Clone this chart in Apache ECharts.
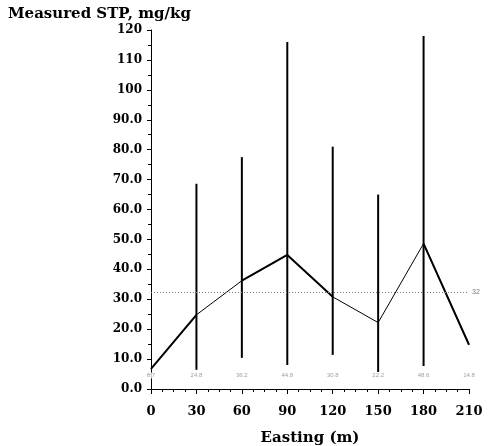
<!DOCTYPE html>
<html>
<head>
<meta charset="utf-8">
<script src="https://cdn.jsdelivr.net/npm/echarts@6/dist/echarts.min.js"></script>
<style>
  html, body { margin: 0; padding: 0; background: #fff; }
  #chart { width: 489px; height: 446px; }
</style>
</head>
<body>
<div id="chart"></div>
<script>
// easting positions (m)
var eastings = [0, 30, 60, 90, 120, 150, 180, 210];
// mean STP at each easting
var means = [6.7, 24.8, 36.2, 44.8, 30.8, 22.2, 48.6, 14.8];
// range of measured values (low / high)
var lows = [null, 6.4, 10.4, 8.0, 11.4, 5.7, 7.7, null];
var highs = [null, 68.6, 77.5, 116, 81, 65, 118, null];
var refValue = 32.5;
var refLabel = "32";

var serif = "DejaVu Serif";

var lineData = eastings.map(function (x, i) { return [x, means[i]]; });
var rangeData = [];
eastings.forEach(function (x, i) {
  if (lows[i] != null) rangeData.push([x, lows[i], highs[i]]);
});
// segments drawn heavier
var thickA = lineData.map(function (p, i) { return (i <= 1 || i >= 6) ? p : [p[0], null]; });
var thickB = lineData.map(function (p, i) { return (i >= 2 && i <= 4) ? p : [p[0], null]; });

var chart = echarts.init(document.getElementById("chart"));
chart.setOption({
  animation: false,
  title: {
    text: "Measured STP, mg/kg",
    left: 3,
    top: 2,
    textStyle: { fontFamily: serif, fontSize: 15, fontWeight: "bold", color: "#000" }
  },
  grid: { left: 151, right: 20, top: 30, bottom: 57, outerBoundsMode: "none" },
  xAxis: {
    type: "value",
    min: 0,
    max: 210,
    interval: 30,
    offset: 5,
    name: "Easting (m)",
    nameLocation: "middle",
    nameGap: 37,
    nameTextStyle: { fontFamily: serif, fontSize: 15, fontWeight: "bold", color: "#000" },
    axisLine: { show: true, lineStyle: { color: "#000", width: 1 } },
    axisTick: { show: true, inside: false, length: 5, lineStyle: { color: "#000" } },
    minorTick: { show: true, splitNumber: 4, length: 3, lineStyle: { color: "#000" } },
    axisLabel: { fontFamily: serif, fontSize: 13, fontWeight: "bold", color: "#000", margin: 11 },
    splitLine: { show: false }
  },
  yAxis: {
    type: "value",
    min: 0,
    max: 120,
    interval: 10,
    offset: 3,
    axisLine: { show: true, lineStyle: { color: "#000", width: 1 } },
    axisTick: { show: true, inside: false, length: 4, lineStyle: { color: "#000" } },
    minorTick: { show: true, splitNumber: 2, length: 3, lineStyle: { color: "#000" } },
    axisLabel: {
      fontFamily: serif, fontSize: 12, fontWeight: "bold", color: "#000", margin: 6,
      formatter: function (v) { return v >= 100 ? String(v) : v.toFixed(1); }
    },
    splitLine: { show: false }
  },
  series: [
    {
      type: "custom",
      data: rangeData,
      renderItem: function (params, api) {
        var p1 = api.coord([api.value(0), api.value(1)]);
        var p2 = api.coord([api.value(0), api.value(2)]);
        return {
          type: "line",
          shape: { x1: p1[0], y1: p1[1], x2: p2[0], y2: p2[1] },
          style: { stroke: "#000", lineWidth: 2 }
        };
      },
      z: 3
    },
    {
      type: "line",
      data: lineData,
      symbol: "none",
      lineStyle: { color: "#000", width: 1 },
      markLine: {
        symbol: "none",
        silent: true,
        data: [{ yAxis: refValue }],
        lineStyle: { color: "#777", type: [1, 2], width: 1 },
        label: { show: true, position: "end", formatter: refLabel, fontSize: 7, color: "#777", distance: 3 }
      },
      z: 4
    },
    {
      type: "line",
      data: thickA,
      symbol: "none",
      connectNulls: false,
      lineStyle: { color: "#000", width: 2 },
      z: 4
    },
    {
      type: "line",
      data: thickB,
      symbol: "none",
      connectNulls: false,
      lineStyle: { color: "#000", width: 2 },
      z: 4
    },
    {
      type: "scatter",
      data: eastings.map(function (x, i) { return [x, 4.5, means[i]]; }),
      symbolSize: 0,
      label: {
        show: true,
        position: "inside",
        fontSize: 6,
        color: "#888",
        backgroundColor: "#fff",
        formatter: function (p) { return p.value[2].toFixed(1); }
      },
      z: 5
    }
  ]
});
</script>
</body>
</html>
